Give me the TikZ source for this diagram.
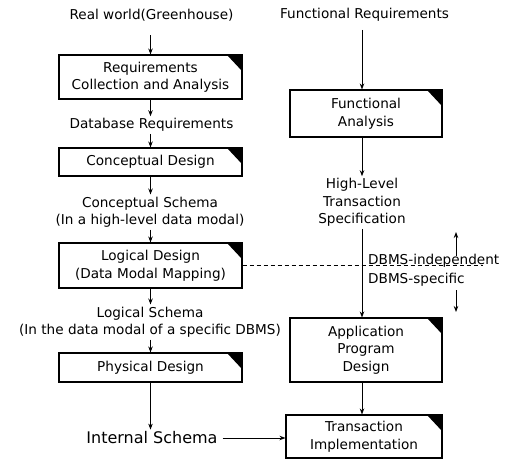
\documentclass[tikz,border=0pt]{standalone}
\usepackage{fontspec}
\setmainfont{DejaVu Sans}
\usetikzlibrary{arrows.meta}
\begin{document}
\begin{tikzpicture}[x=1pt,y=1pt,font=\fontsize{13.6}{17.5}\selectfont,>={Stealth[length=6pt,width=4.5pt]}]
        \tikzstyle{stage}=[draw,line width=1.1pt,align=center,inner sep=0pt,path picture={\fill (path picture bounding box.north east) -- ++(-15pt,0) -- ++(15pt,-16pt) -- cycle;}]
        \tikzstyle{note}=[align=center,inner sep=2pt]
        \tikzstyle{flow}=[draw,->,line width=0.8pt]
        \useasboundingbox (0,0) rectangle (509,459);
       \begin{scope}
         \node [note] (realworld) at (151.5,444) {Real world(Greenhouse)};
         \node [stage,minimum width=183pt,minimum height=44pt] (req) at (150.5,382) {Requirements\\Collection and Analysis};
         \node [note] (dbreq) at (151.5,334) {Database Requirements};
         \node [stage,minimum width=183pt,minimum height=28pt] (concept) at (150.5,297) {Conceptual Design};
         \node [note] (cschema) at (150,247) {Conceptual Schema\\(In a high-level data modal)};
         \node [stage,minimum width=183pt,minimum height=45pt] (logical) at (150.5,193.5) {Logical Design\\(Data Modal Mapping)};
         \node [note] (lschema) at (150,137) {Logical Schema\\(In the data modal of a specific DBMS)};
         \node [stage,minimum width=183pt,minimum height=29pt] (physical) at (150.5,91.5) {Physical Design};
         \node [note,font=\fontsize{16}{19}\selectfont] (intschema) at (152,21) {Internal Schema};
         \path[flow] (req.north |- realworld.south) [shorten <=12pt] -- (req.north);
         \path[flow] (req) -- (req.south |- dbreq.north);
         \path[flow] (concept.north |- dbreq.south) -- (concept);
         \path[flow] (concept) -- (concept.south |- cschema.north);
         \path[flow] (logical.north |- cschema.south) -- (logical);
         \path[flow] (logical) -- (logical.south |- lschema.north);
         \path[flow] (physical.north |- lschema.south) -- (physical);
         \path[flow] (physical) -- (physical.south |- intschema.north);
        \end{scope}
       \begin{scope}
         \node [note] (funreq) at (364.5,444) {Functional Requirements};
         \node [stage,minimum width=152pt,minimum height=47pt] (funcan) at (366,345.5) {Functional\\Analysis};
         \node [note] (hlts) at (362,256.5) {High-Level\\Transaction\\Specification};
         \node [stage,minimum width=152pt,minimum height=64pt] (apd) at (366,109) {Application\\Program\\Design};
         \node [stage,minimum width=156pt,minimum height=43pt] (trans) at (364,22.5) {Transaction\\Implementation};
         \path[flow] (hlts.north |- funreq.south) [shorten <=6pt] -- (hlts.north |- funcan.north);
         \path[flow] (hlts.north |- funcan.south) -- (hlts.north);
         \path[flow] (hlts.south) -- (hlts.south |- apd.north);
         \path[flow] (hlts.south |- apd.south) -- (hlts.south |- trans.north);
         \path[flow] (intschema.east) [shorten <=3pt] -- (intschema.east -| trans.west);
        \end{scope}
       \begin{scope}
         \coordinate (dend) at (483,194);
         \draw [line width=0.8pt,dash pattern=on 4pt off 3pt] (logical.east) -- (logical.east -| dend);
         \node [note,anchor=west] (dbmsind) at (366,198) {DBMS-independent};
         \node [note,anchor=west] (dbmsspec) at (366,179) {DBMS-specific};
         \coordinate (uptail) at (456,203);
         \coordinate (uphead) at (456,227);
         \coordinate (dntail) at (456,169);
         \coordinate (dnhead) at (456,147);
         \path[flow] (uptail) -- (uphead);
         \path[flow] (dntail) -- (dnhead);
        \end{scope}
      \end{tikzpicture}
\end{document}
